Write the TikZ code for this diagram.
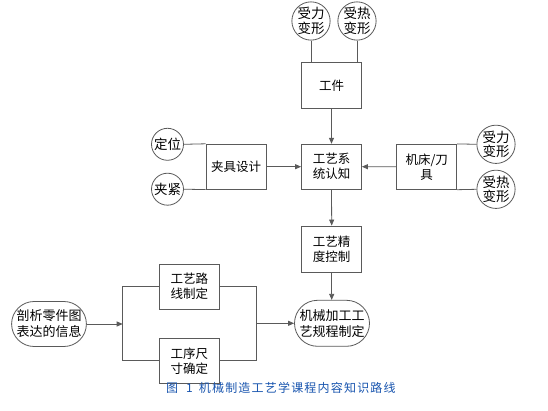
\documentclass[tikz,border=0pt]{standalone}
\usepackage{fontspec}
\setmainfont{Noto Sans CJK SC}
\usetikzlibrary{arrows.meta,shapes.misc}
\definecolor{capblue}{RGB}{25,85,175}
\definecolor{edgegray}{RGB}{90,90,90}
\newcommand{\ck}{\kern1.2pt}
\tikzset{
  boxnode/.style={draw=edgegray,line width=0.8pt,minimum width=60pt,minimum height=45pt,align=center,inner sep=0pt,font=\fontsize{12.5}{15}\selectfont},
  circnode/.style={draw=edgegray,line width=0.8pt,circle,minimum size=#1,inner sep=0pt,align=center,font=\fontsize{13.5}{14.5}\selectfont},
  pillnode/.style={draw=edgegray,line width=0.8pt,rounded rectangle,minimum width=74pt,minimum height=45pt,inner sep=0pt,align=center,font=\fontsize{13}{16}\selectfont},
  conn/.style={draw=edgegray,line width=0.8pt},
  arr/.style={conn,-{Triangle[length=6pt,width=5pt]}}
}
\begin{document}
\begin{tikzpicture}[x=1pt,y=-1pt]
\useasboundingbox (0,0) rectangle (548,411);
\fill[white] (0,0) rectangle (548,411);
% top
\node[circnode=36pt] (c1) at (311,21) {受力\\变形};
\node[circnode=36pt] (c2) at (357,21) {受热\\变形};
\node[boxnode,minimum height=46pt] (gj) at (331.5,85.5) {工件};
\node[boxnode] (xt) at (331.5,166.7) {工艺系\\统认知};
% left
\node[boxnode] (jj) at (236,166.7) {夹具设计};
\node[circnode=32pt] (dw) at (167.5,144.3) {定位};
\node[circnode=32pt] (jz) at (167.5,189.2) {夹紧};
% right
\node[boxnode] (jc) at (426.7,166.8) {机床/刀\\具};
\node[circnode=34pt] (rc1) at (496,144.3) {受力\\变形};
\node[circnode=34pt] (rc2) at (496,189.3) {受热\\变形};
% lower
\node[boxnode,minimum height=46pt] (jd) at (331.7,249) {工艺精\\度控制};
\node[pillnode,minimum width=75pt,minimum height=46pt] (jx) at (332,323.3) {机械加工工\\艺规程制定};
\node[pillnode] (px) at (49,324) {剖析零件图\\表达的信息};
\node[boxnode] (lx) at (189.3,286.5) {工艺路\\线制定};
\node[boxnode] (gx) at (189.3,360.8) {工序尺\\寸确定};
\node[font=\fontsize{12}{13}\selectfont,text=capblue,inner sep=0pt,anchor=west] (cap) at (166,387.5) {图\kern8pt 1\kern6pt 机\ck 械\ck 制\ck 造\ck 工\ck 艺\ck 学\ck 课\ck 程\ck 内\ck 容\ck 知\ck 识\ck 路\ck 线};
% bracket coordinates
\coordinate (bt) at (122.7,286.5);
\coordinate (bb) at (122.7,360.8);
\coordinate (bm) at (122.7,324);
\coordinate (rt) at (256.7,286.5);
\coordinate (rb) at (256.7,360.8);
\coordinate (rm) at (256.7,323.3);
% connectors
\draw[conn] (c1.south) -- (c1.south |- gj.north);
\draw[conn] (c2.south) -- (c2.south |- gj.north);
\draw[arr] (gj.south) -- (xt.north);
\draw[conn] (dw.east) -- (jj.north west);
\draw[conn] (jz.east) -- (jj.south west);
\draw[arr] (jj.east) -- (xt.west);
\draw[arr] (jc.west) -- (xt.east);
\draw[conn] (jc.north east) -- (rc1.west);
\draw[conn] (jc.south east) -- (rc2.west);
\draw[arr] (xt.south) -- (jd.north);
\draw[arr] (jd.south) -- (jd.south |- jx.north);
\draw[arr] (px.east) -- (bm);
\draw[conn] (lx.west) -- (bt) -- (bb) -- (gx.west);
\draw[conn] (lx.east) -- (rt) -- (rb) -- (gx.east);
\draw[arr] (rm) -- (jx.west);
\end{tikzpicture}
\end{document}
